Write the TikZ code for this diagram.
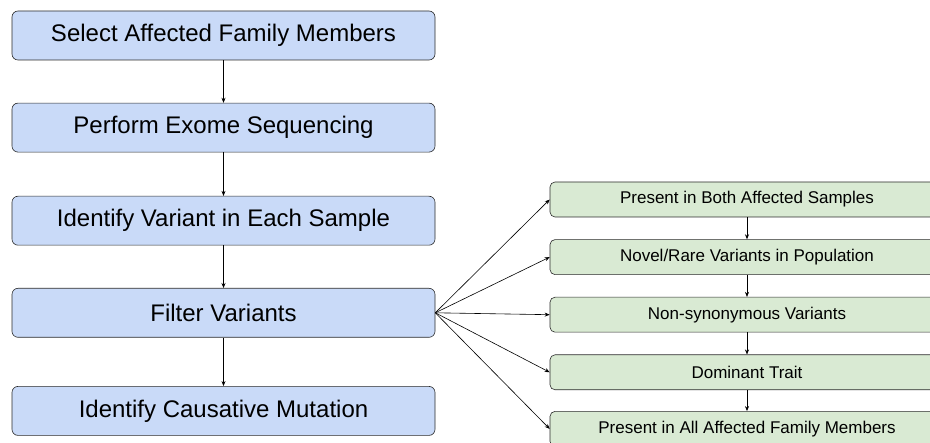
\documentclass[tikz,border=0pt]{standalone}
\usepackage{fontspec}
\setmainfont{Liberation Sans}
\usetikzlibrary{arrows.meta}
\usetikzlibrary{positioning}
\usetikzlibrary{calc}

\definecolor{stepblue}{HTML}{C9DAF8}
\definecolor{filtergreen}{HTML}{D9EAD3}
\definecolor{edgegray}{HTML}{2B2B2B}

\begin{document}
\begin{tikzpicture}[x=1pt,y=1pt,-{Stealth[length=5pt,width=4pt]},semithick,
					node distance=42.5pt]
					\tikzstyle{stepbox}=[draw=edgegray,fill=stepblue,rounded corners=6pt,
					minimum width=423pt,minimum height=49pt,inner sep=0pt,font=\fontsize{24}{28}\selectfont]
					\tikzstyle{filterbox}=[draw=edgegray,fill=filtergreen,rounded corners=5pt,
					minimum width=394pt,minimum height=35pt,inner sep=0pt,font=\fontsize{17}{20}\selectfont]
					
					\useasboundingbox (0,0) rectangle (930,-443);
					\clip (0,0) rectangle (930,-443);
					
					\node[stepbox]         (select)  at (223.5,-35.5)      {Select Affected Family Members};
					\node[stepbox]         (exome)   [below=of select]     {Perform Exome Sequencing};
					\node[stepbox]         (ident)   [below=43.5pt of exome] {Identify Variant in Each Sample};
					\node[stepbox]         (filter)  [below=of ident]      {Filter Variants};
					\node[stepbox]         (causal)  [below=48.5pt of filter] {Identify Causative Mutation};
					
					\node[filterbox]       (both)    at (747,-199.5)       {Present in Both Affected Samples};
					\node[filterbox]       (rare)    [below=22pt of both]  {Novel/Rare Variants in Population};
					\node[filterbox]       (nonsyn)  [below=22pt of rare]  {Non-synonymous Variants};
					\node[filterbox]       (domin)   [below=22pt of nonsyn] {Dominant Trait};
					\node[filterbox]       (allfam)  [below=21pt of domin] {Present in All Affected Family Members};
					
					\path (select) edge (exome)
					(exome)  edge (ident)
					(ident)  edge (filter)
					(filter) edge (causal)
					(both)   edge (rare)
					(rare)   edge (nonsyn)
					(nonsyn) edge (domin)
					(domin)  edge (allfam);
					
					\foreach \f in {both,rare,nonsyn,domin,allfam}
					\draw (filter.east) -- (\f.west);
					\end{tikzpicture}
\end{document}
